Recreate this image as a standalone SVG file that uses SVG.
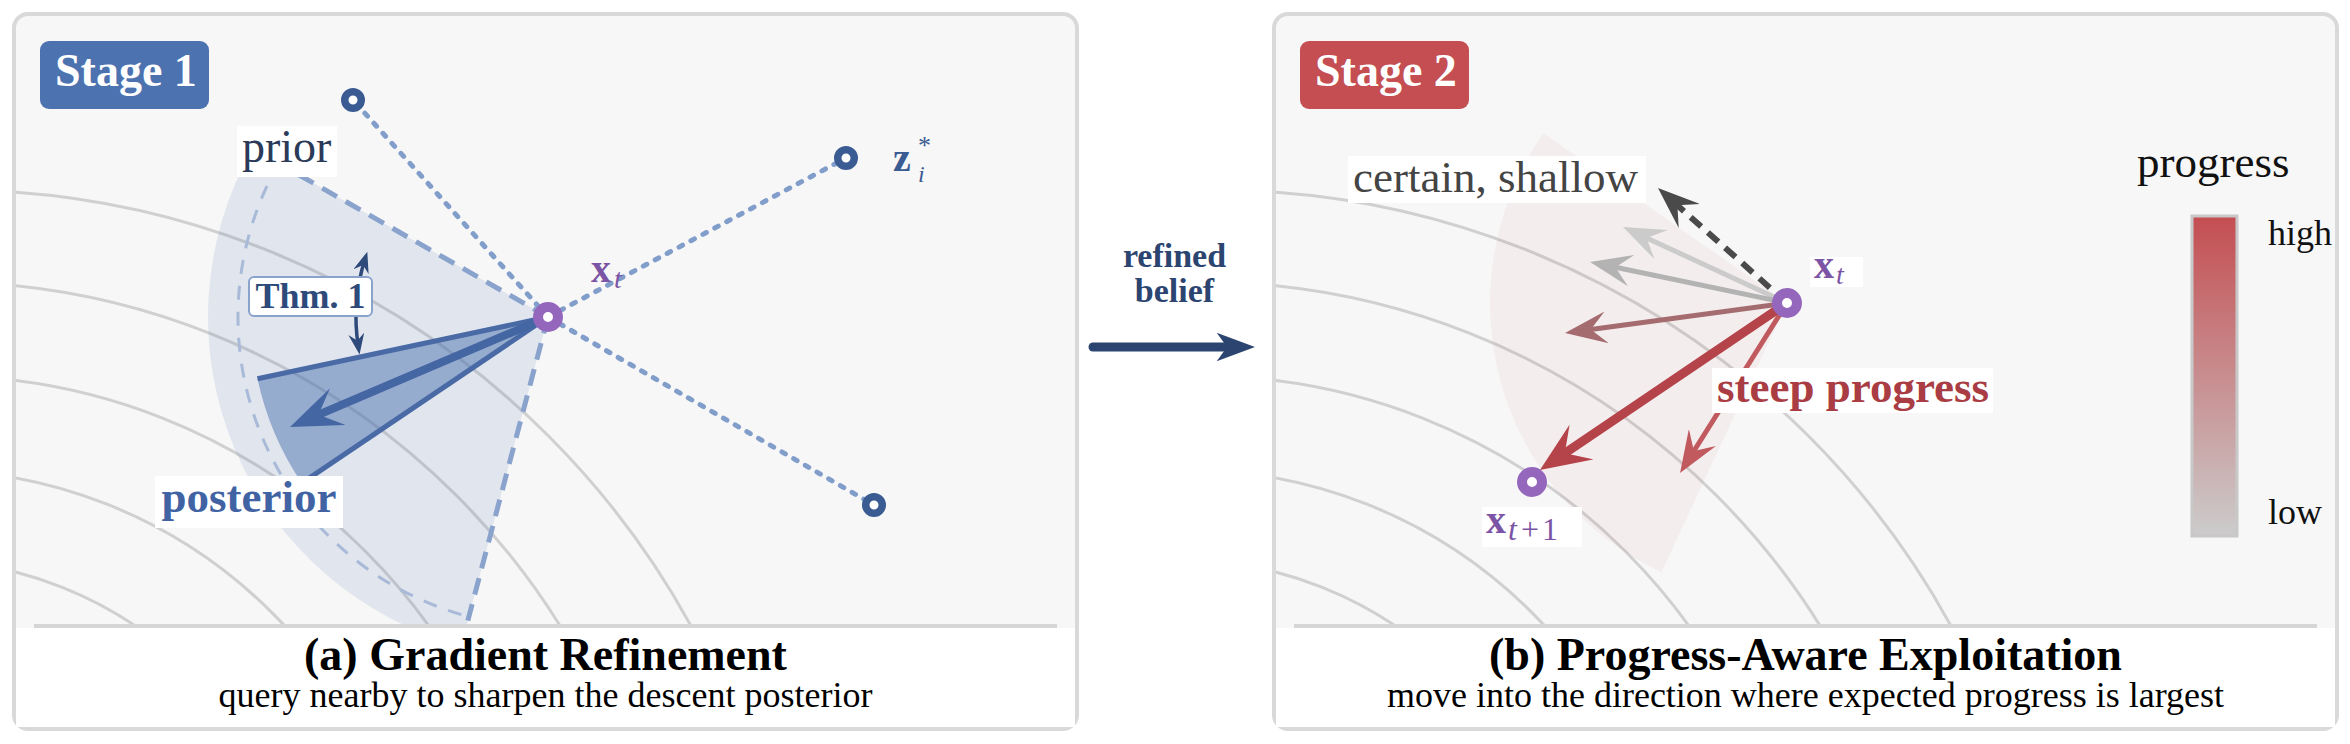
<svg xmlns="http://www.w3.org/2000/svg" width="2350" height="744" viewBox="0 0 2350 744">
<defs>
<style>
.serif{font-family:"Liberation Serif","Times New Roman",serif}
.panel{fill:#f7f7f7;stroke:#d9d9d9;stroke-width:4}
.capbg{fill:#ffffff}
.sep{stroke:#d6d6d6;stroke-width:4}
.contour{fill:none;stroke:#d0d0d0;stroke-width:3}
.dot{fill:#fff;stroke:#3b5b93;stroke-width:7.5}
.ring{fill:#fff;stroke:#9467bd;stroke-width:10}
.dotted{fill:none;stroke:#819dca;stroke-width:5;stroke-dasharray:4 9.5;stroke-linecap:round}
.pedge{fill:none;stroke:#8aa3cc;stroke-width:5;stroke-dasharray:17 10}
.lbl{fill:#ffffff}
.title{font-size:46px;font-weight:bold;fill:#000;text-anchor:middle}
.sub{font-size:36px;fill:#000;text-anchor:middle}
.badge{font-size:46px;font-weight:bold;fill:#fff}
.purple{fill:#7b54a6}
</style>
<clipPath id="clipA"><rect x="16" y="16" width="1059" height="610" rx="12"/></clipPath>
<clipPath id="clipB"><rect x="1276" y="16" width="1059" height="610" rx="12"/></clipPath>
<linearGradient id="gradBar" x1="0" y1="0" x2="0" y2="1">
<stop offset="0" stop-color="#c44e52"/>
<stop offset="1" stop-color="#cccccc"/>
</linearGradient>
<marker id="hBlue" markerUnits="userSpaceOnUse" viewBox="0 0 52 40" markerWidth="52" markerHeight="40" refX="21" refY="20" orient="auto"><path d="M0,0 L52,20 L0,40 L21,20 Z" fill="#4466a3"/></marker>
<marker id="hNavy" markerUnits="userSpaceOnUse" viewBox="0 0 21 16" markerWidth="21" markerHeight="16" refX="13" refY="8" orient="auto-start-reverse"><path d="M0,0 L21,8 L0,16 L7,8 Z" fill="#2d4a7a"/></marker>
<marker id="hRedBig" markerUnits="userSpaceOnUse" viewBox="0 0 50 42" markerWidth="50" markerHeight="42" refX="20" refY="21" orient="auto"><path d="M0,0 L50,21 L0,42 L20,21 Z" fill="#b5434a"/></marker>
<marker id="hRed2" markerUnits="userSpaceOnUse" viewBox="0 0 42 32" markerWidth="42" markerHeight="32" refX="16" refY="16" orient="auto"><path d="M0,0 L42,16 L0,32 L16,16 Z" fill="#c05a5f"/></marker>
<marker id="hRed3" markerUnits="userSpaceOnUse" viewBox="0 0 42 32" markerWidth="42" markerHeight="32" refX="16" refY="16" orient="auto"><path d="M0,0 L42,16 L0,32 L16,16 Z" fill="#a56c6f"/></marker>
<marker id="hGray1" markerUnits="userSpaceOnUse" viewBox="0 0 42 32" markerWidth="42" markerHeight="32" refX="16" refY="16" orient="auto"><path d="M0,0 L42,16 L0,32 L16,16 Z" fill="#b3b3b3"/></marker>
<marker id="hGray2" markerUnits="userSpaceOnUse" viewBox="0 0 42 32" markerWidth="42" markerHeight="32" refX="16" refY="16" orient="auto"><path d="M0,0 L42,16 L0,32 L16,16 Z" fill="#cbcbcb"/></marker>
<marker id="hDark" markerUnits="userSpaceOnUse" viewBox="0 0 42 32" markerWidth="42" markerHeight="32" refX="16" refY="16" orient="auto"><path d="M0,0 L42,16 L0,32 L16,16 Z" fill="#4a4a4a"/></marker>
</defs>

<rect width="2350" height="744" fill="#ffffff"/>

<!-- ============ Panel A ============ -->
<g id="panel-a">
<rect class="panel" x="14" y="14" width="1063" height="715" rx="14"/>
<rect class="capbg" x="16" y="628" width="1059" height="99"/>
<g clip-path="url(#clipA)">
<g id="contours-a">
<circle class="contour" cx="-45" cy="1029" r="839"/>
<circle class="contour" cx="-59" cy="1011" r="729"/>
<circle class="contour" cx="-58" cy="975" r="599"/>
<circle class="contour" cx="-72" cy="956" r="486"/>
<circle class="contour" cx="-80" cy="945" r="385"/>
</g>
<path id="prior-sector" d="M548,317 L252.7,148.5 A340,340 0 0 0 461.2,645.7 Z" fill="#4c72b0" fill-opacity="0.13"/>
<path id="prior-arc" d="M267,186 A310,310 0 0 0 467.8,616.4" fill="none" stroke="#a8bad8" stroke-width="3" stroke-dasharray="14 12"/>
<path id="posterior-wedge" d="M548,317 L257.5,378.7 A297,297 0 0 0 301.8,483.1 Z" fill="#4c72b0" fill-opacity="0.5"/>
</g>
<line class="sep" x1="34" y1="626" x2="1057" y2="626"/>
</g>

<g id="connectors-a" clip-path="url(#clipA)">
<line class="dotted" x1="548" y1="317" x2="353" y2="100"/>
<line class="dotted" x1="548" y1="317" x2="846" y2="158"/>
<line class="dotted" x1="548" y1="317" x2="874" y2="505"/>
<line class="pedge" x1="548" y1="317" x2="252.7" y2="148.5"/>
<line class="pedge" x1="548" y1="317" x2="461.2" y2="645.7"/>
<line x1="548" y1="317" x2="257.5" y2="378.7" stroke="#4a6aa6" stroke-width="5"/>
<line x1="548" y1="317" x2="301.8" y2="483.1" stroke="#4a6aa6" stroke-width="5"/>
<line x1="548" y1="317" x2="318.5" y2="414.8" stroke="#4466a3" stroke-width="8" marker-end="url(#hBlue)"/>
<path d="M364.9,259.3 A192,192 0 0 0 358.3,346.7" fill="none" stroke="#2d4a7a" stroke-width="3.5" marker-start="url(#hNavy)" marker-end="url(#hNavy)"/>
</g>

<g id="badge-1">
<rect x="40" y="41" width="169" height="68" rx="9" fill="#4c72b0"/>
<text class="serif badge" x="55" y="86">Stage 1</text>
</g>
<g id="label-prior">
<rect class="lbl" x="237" y="126" width="100" height="51"/>
<text class="serif" x="242" y="162" font-size="46" fill="#2a3a58">prior</text>
</g>
<g id="label-thm1">
<rect x="249" y="277" width="123" height="39" rx="5" fill="#fff" stroke="#8aa3cc" stroke-width="2"/>
<text class="serif" x="310.5" y="308" font-size="36" font-weight="bold" fill="#2d4a7a" text-anchor="middle">Thm. 1</text>
</g>
<g id="label-posterior">
<rect class="lbl" x="155" y="476" width="188" height="52"/>
<text class="serif" x="249" y="512" font-size="45" font-weight="bold" fill="#4163a3" text-anchor="middle">posterior</text>
</g>
<g id="z-top"><circle class="dot" cx="353" cy="100" r="8.25"/></g>
<g id="z-star">
<circle class="dot" cx="846" cy="158" r="8.25"/>
<text class="serif" x="893" y="171" font-size="40" font-weight="bold" fill="#3b5b93">z</text>
<text class="serif" x="918" y="182" font-size="24" font-style="italic" fill="#3b5b93">i</text>
<text class="serif" x="918" y="154" font-size="26" fill="#3b5b93">*</text>
</g>
<g id="z-bottom"><circle class="dot" cx="874" cy="505" r="8.25"/></g>
<g id="xt-a">
<circle class="ring" cx="548" cy="317" r="10"/>
<text class="serif purple"><tspan x="591" y="282" font-size="40" font-weight="bold">x</tspan><tspan x="614" y="288" font-size="28" font-style="italic">t</tspan></text>
</g>
<g id="caption-a">
<text class="serif title" x="545.5" y="670">(a) Gradient Refinement</text>
<text class="serif sub" x="545.5" y="707">query nearby to sharpen the descent posterior</text>
</g>

<!-- ============ Middle ============ -->
<g id="refined-belief">
<text class="serif" x="1174.5" y="267" font-size="34" font-weight="bold" fill="#2c4570" text-anchor="middle">refined</text>
<text class="serif" x="1174.5" y="302" font-size="34" font-weight="bold" fill="#2c4570" text-anchor="middle">belief</text>
</g>
<g id="connector-mid">
<line x1="1093" y1="347" x2="1230" y2="347" stroke="#2c4570" stroke-width="9" stroke-linecap="round"/>
<path d="M1255,347 L1216.7,332.7 L1227,347 L1216.7,361.3 Z" fill="#2c4570"/>
</g>

<!-- ============ Panel B ============ -->
<g id="panel-b">
<rect class="panel" x="1274" y="14" width="1063" height="715" rx="14"/>
<rect class="capbg" x="1276" y="628" width="1059" height="99"/>
<g clip-path="url(#clipB)">
<g id="contours-b">
<circle class="contour" cx="1215" cy="1029" r="839"/>
<circle class="contour" cx="1201" cy="1011" r="729"/>
<circle class="contour" cx="1202" cy="975" r="599"/>
<circle class="contour" cx="1188" cy="956" r="486"/>
<circle class="contour" cx="1180" cy="945" r="385"/>
</g>
<path id="pink-sector" d="M1787,303 L1543.4,133.1 A297,297 0 0 0 1661.5,572.2 Z" fill="#c44e52" fill-opacity="0.055"/>
</g>
<line class="sep" x1="1294" y1="626" x2="2317" y2="626"/>
</g>

<g id="connectors-b">
<line x1="1787" y1="303" x2="1646.6" y2="237.9" stroke="#cbcbcb" stroke-width="5" marker-end="url(#hGray2)"/>
<line x1="1787" y1="303" x2="1615.5" y2="267.3" stroke="#b3b3b3" stroke-width="5" marker-end="url(#hGray1)"/>
<line x1="1787" y1="303" x2="1677.4" y2="205.3" stroke="#4a4a4a" stroke-width="6" stroke-dasharray="14 9" marker-end="url(#hDark)"/>
<line x1="1787" y1="303" x2="1590.8" y2="329.5" stroke="#a56c6f" stroke-width="5" marker-end="url(#hRed3)"/>
<line x1="1787" y1="303" x2="1693.9" y2="451" stroke="#c05a5f" stroke-width="5" marker-end="url(#hRed2)"/>
<line x1="1787" y1="303" x2="1564.8" y2="453.2" stroke="#b5434a" stroke-width="9" marker-end="url(#hRedBig)"/>
</g>

<g id="badge-2">
<rect x="1300" y="41" width="169" height="68" rx="9" fill="#c44e52"/>
<text class="serif badge" x="1315" y="86">Stage 2</text>
</g>
<g id="label-certain">
<rect class="lbl" x="1348" y="156" width="298" height="47"/>
<text class="serif" x="1353" y="192" font-size="45" fill="#444444">certain, shallow</text>
</g>
<g id="label-steep">
<rect class="lbl" x="1712" y="368" width="281" height="45"/>
<text class="serif" x="1717" y="402" font-size="45" font-weight="bold" fill="#a93d43">steep progress</text>
</g>
<g id="xt-b">
<rect class="lbl" x="1810" y="257" width="53" height="30"/>
<circle class="ring" cx="1787" cy="303" r="10"/>
<text class="serif purple"><tspan x="1814" y="278" font-size="40" font-weight="bold">x</tspan><tspan x="1836" y="284" font-size="28" font-style="italic">t</tspan></text>
</g>
<g id="xt1-b">
<rect class="lbl" x="1482" y="507" width="100" height="40"/>
<circle class="ring" cx="1532" cy="482" r="10"/>
<text class="serif purple"><tspan x="1486" y="533" font-size="40" font-weight="bold">x</tspan><tspan x="1508" y="540" font-size="32" font-style="italic">t</tspan><tspan dx="4" font-size="32">+</tspan><tspan dx="3" font-size="32">1</tspan></text>
</g>
<g id="legend">
<text class="serif" x="2137" y="177" font-size="45" fill="#111">progress</text>
<rect x="2192" y="216" width="45" height="320" fill="url(#gradBar)" stroke="#c8c8c8" stroke-width="3"/>
<text class="serif" x="2268" y="245" font-size="36" fill="#111">high</text>
<text class="serif" x="2268" y="524" font-size="36" fill="#111">low</text>
</g>
<g id="caption-b">
<text class="serif title" x="1805.5" y="670">(b) Progress-Aware Exploitation</text>
<text class="serif sub" x="1805.5" y="707">move into the direction where expected progress is largest</text>
</g>
</svg>
